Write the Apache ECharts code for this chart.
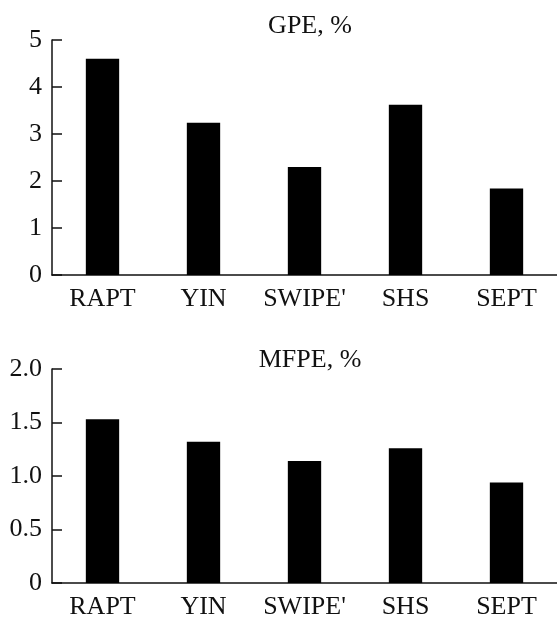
<!DOCTYPE html>
<html>
<head>
<meta charset="utf-8">
<script src="https://cdn.jsdelivr.net/npm/echarts@6/dist/echarts.min.js"></script>
<style>
html,body{margin:0;padding:0;background:#fff;}
#c{width:557px;height:620px;}
</style>
</head>
<body>
<div id="c"></div>
<script>
var categories = ["RAPT", "YIN", "SWIPE'", "SHS", "SEPT"];
var gpeValues = [4.60, 3.24, 2.30, 3.62, 1.84];
var mfpeValues = [1.53, 1.32, 1.14, 1.26, 0.94];
var gpeTicks = [0, 1, 2, 3, 4, 5];
var mfpeTicks = [0, 0.5, 1.0, 1.5, 2.0];

var FONT = "Liberation Serif";
var TXT = "#111";

var chart = echarts.init(document.getElementById('c'), null, {renderer: 'canvas'});

function xAxis(gi) {
  return {
    type: 'category', gridIndex: gi, data: categories,
    axisLine: {show: true, lineStyle: {color: '#111', width: 1.5}},
    axisTick: {show: false},
    axisLabel: {color: TXT, fontFamily: FONT, fontSize: 26, margin: 11, interval: 0, hideOverlap: false},
    splitLine: {show: false}
  };
}
function yAxis(gi, ticks, fmt) {
  return {
    type: 'value', gridIndex: gi,
    min: ticks[0], max: ticks[ticks.length - 1], interval: ticks[1] - ticks[0],
    axisLine: {show: true, lineStyle: {color: '#111', width: 1.5}},
    axisTick: {show: true, inside: true, length: 10, lineStyle: {color: '#111', width: 1.5}},
    axisLabel: {color: TXT, fontFamily: FONT, fontSize: 26, margin: 10, formatter: fmt},
    splitLine: {show: false}
  };
}

chart.setOption({
  backgroundColor: '#fff',
  animation: false,
  title: [
    {text: 'GPE, %', left: 305, top: 8, textAlign: 'center',
     textStyle: {color: TXT, fontFamily: FONT, fontSize: 26, fontWeight: 'normal'}},
    {text: 'MFPE, %', left: 305, top: 342, textAlign: 'center',
     textStyle: {color: TXT, fontFamily: FONT, fontSize: 26, fontWeight: 'normal'}}
  ],
  grid: [
    {left: 52, right: 0, top: 40, height: 235},
    {left: 52, right: 0, top: 369, height: 214}
  ],
  xAxis: [xAxis(0), xAxis(1)],
  yAxis: [
    yAxis(0, gpeTicks, function (v) { return String(v); }),
    yAxis(1, mfpeTicks, function (v) { return v === 0 ? '0' : v.toFixed(1); })
  ],
  series: [
    {type: 'bar', xAxisIndex: 0, yAxisIndex: 0, data: gpeValues, barWidth: '33%',
     itemStyle: {color: '#000'}},
    {type: 'bar', xAxisIndex: 1, yAxisIndex: 1, data: mfpeValues, barWidth: '33%',
     itemStyle: {color: '#000'}}
  ]
});
</script>
</body>
</html>
